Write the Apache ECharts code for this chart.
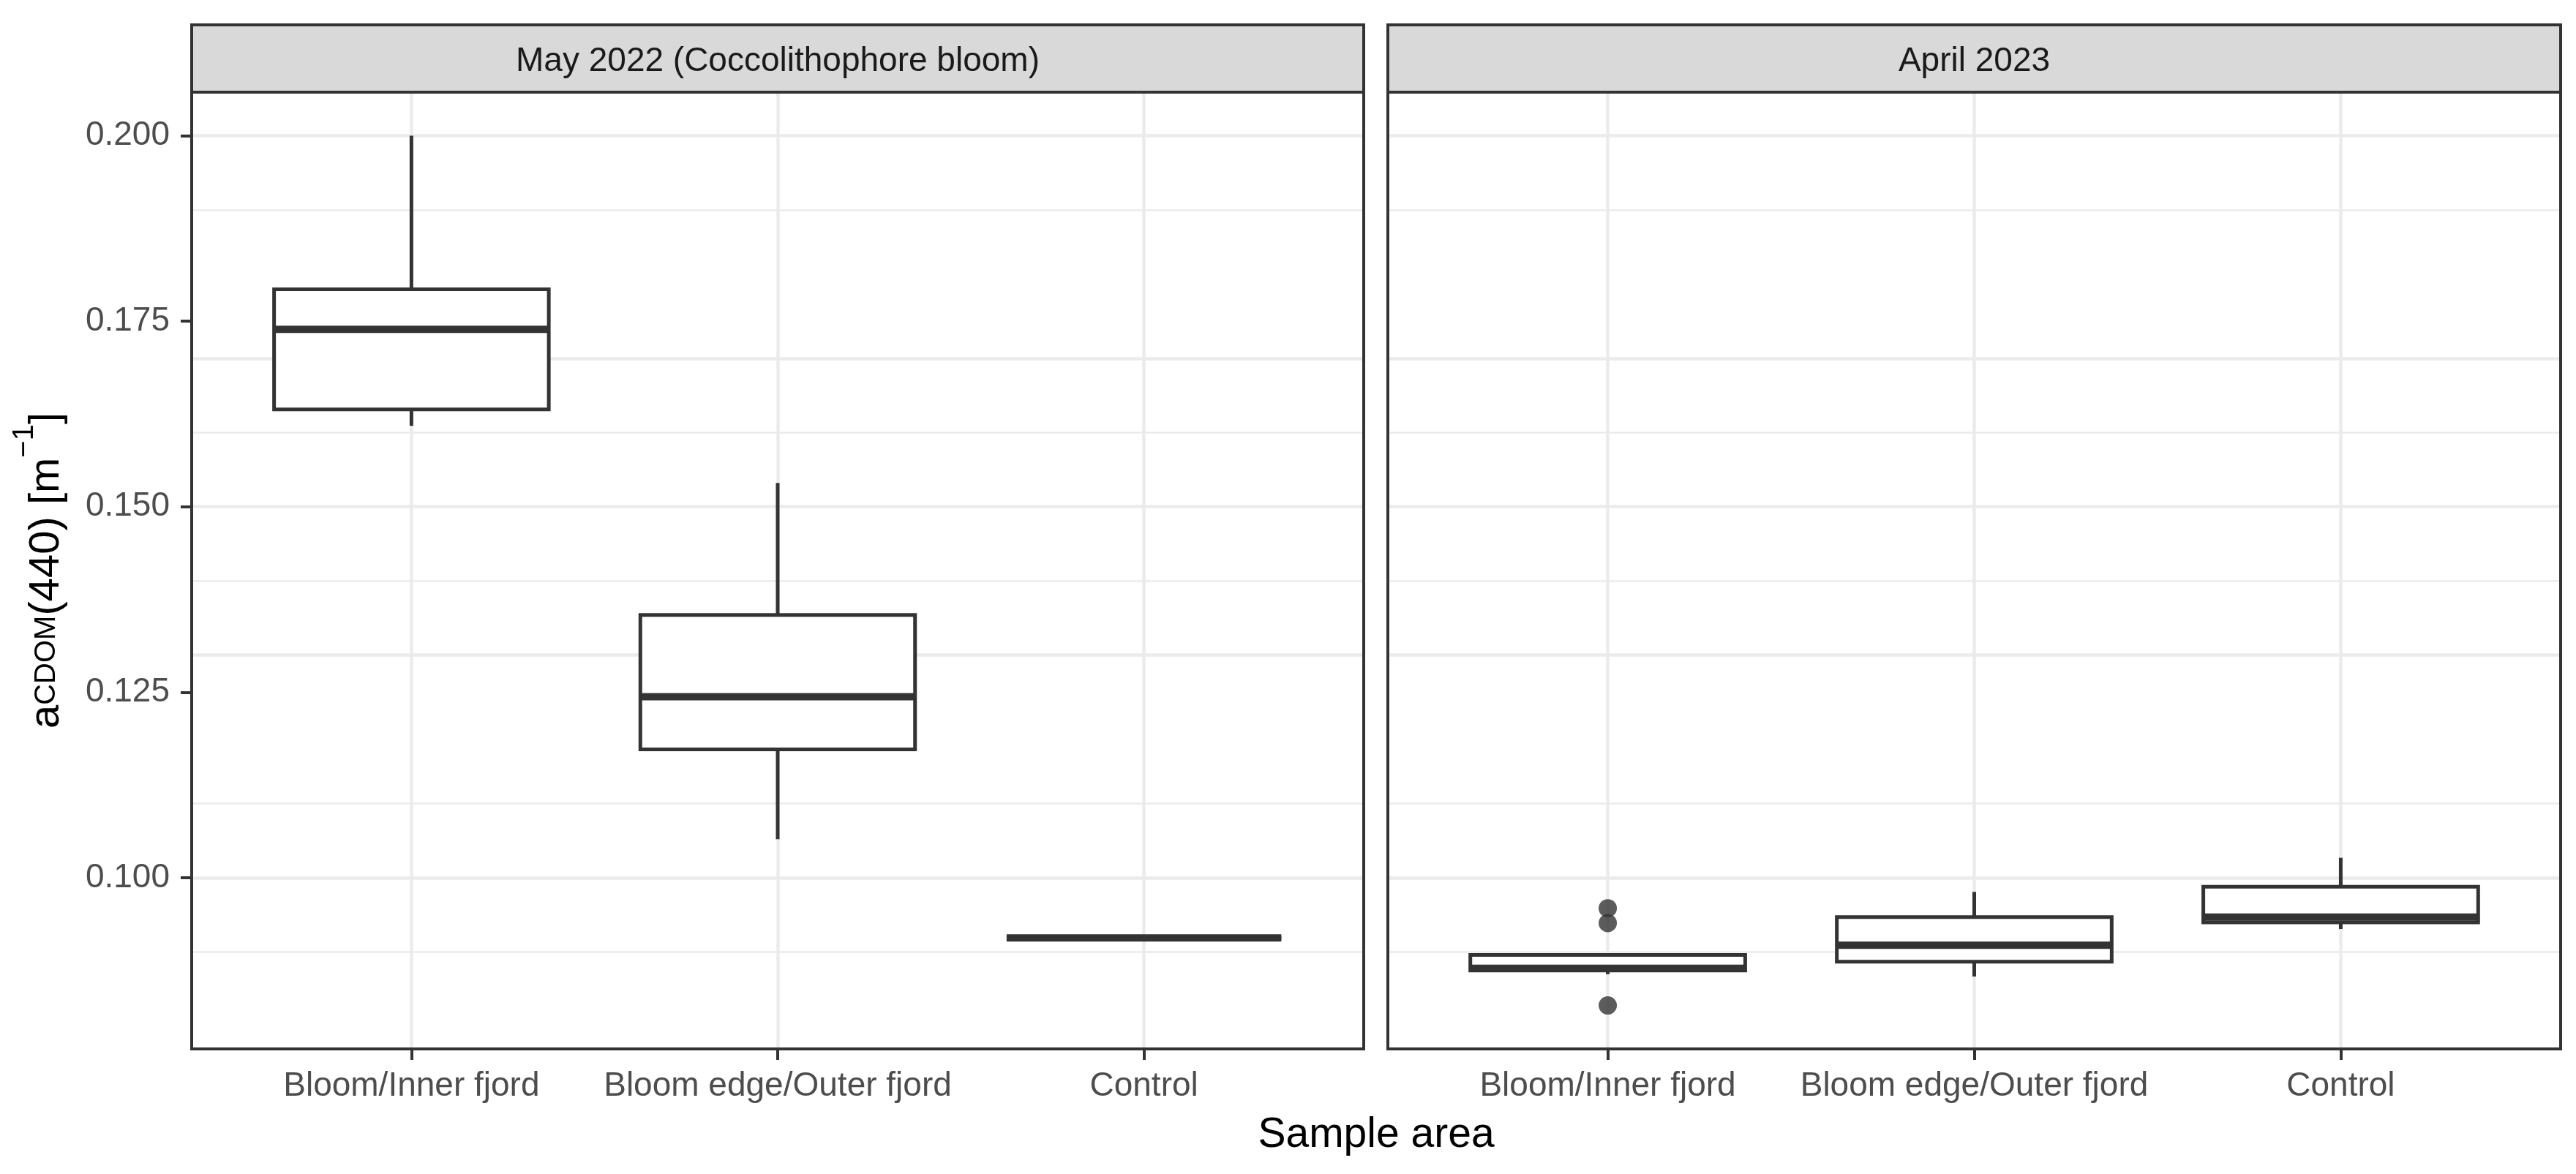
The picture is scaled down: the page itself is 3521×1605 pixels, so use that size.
<!DOCTYPE html>
<html>
<head>
<meta charset="utf-8">
<script src="https://cdn.jsdelivr.net/npm/echarts@6/dist/echarts.min.js"></script>
<style>
html,body{margin:0;padding:0;background:#fff;}
#chart{width:3521px;height:1605px;}
</style>
</head>
<body>
<div id="chart"></div>
<script>
// ---------------- data ----------------
const categories = ['Bloom/Inner fjord', 'Bloom edge/Outer fjord', 'Control'];
const panelTitles = ['May 2022 (Coccolithophore bloom)', 'April 2023'];
// [lower whisker, Q1, median, Q3, upper whisker]
const may2022Boxes = [
  [0.1609, 0.1631, 0.1739, 0.1793, 0.2000],
  [0.1052, 0.1173, 0.1244, 0.1354, 0.1532],
  [0.0919, 0.0919, 0.0919, 0.0919, 0.0919]
];
const apr2023Boxes = [
  [0.0870, 0.0875, 0.0878, 0.0896, 0.0896],
  [0.0867, 0.0887, 0.0909, 0.0947, 0.0981],
  [0.0931, 0.0940, 0.0947, 0.0988, 0.1027]
];
const apr2023OutlierCat = [1, 1, 1];
const apr2023OutlierVal = [0.0959, 0.0939, 0.0828];
const yTicks = [0.100, 0.125, 0.150, 0.175, 0.200];
const yMinorGrid = [0.0875, 0.1125, 0.1375, 0.1625, 0.1875];
const xTicks = [1, 2, 3];

// ---------------- layout / style ----------------
const FONT = '"Liberation Sans", Arial, Helvetica, sans-serif';
const PANEL_TOP = 126, PANEL_BOTTOM = 1434, STRIP_TOP = 34;
const PANEL_X = [[262, 1864], [1897, 3500]];
const LINE = '#333333';
const BOX_WIDTH = 0.75;

const allVals = [].concat(...may2022Boxes, ...apr2023Boxes, apr2023OutlierVal);
const dMin = Math.min(...allVals), dMax = Math.max(...allVals);
const yMin = dMin - 0.05 * (dMax - dMin);
const yMax = dMax + 0.05 * (dMax - dMin);

function renderBox(params, api) {
  const x = api.value(0);
  const lo = api.coord([x, api.value(1)]);
  const q1 = api.coord([x, api.value(2)]);
  const med = api.coord([x, api.value(3)]);
  const q3 = api.coord([x, api.value(4)]);
  const hi = api.coord([x, api.value(5)]);
  const hw = api.size([BOX_WIDTH, 0])[0] / 2;
  const st = {stroke: LINE, lineWidth: 5, fill: null};
  return {
    type: 'group',
    children: [
      {type: 'line', shape: {x1: lo[0], y1: lo[1], x2: q1[0], y2: q1[1]}, style: st},
      {type: 'line', shape: {x1: q3[0], y1: q3[1], x2: hi[0], y2: hi[1]}, style: st},
      {type: 'rect', shape: {x: q3[0] - hw, y: q3[1], width: 2 * hw, height: q1[1] - q3[1]},
        style: {stroke: LINE, lineWidth: 5, fill: '#ffffff'}},
      {type: 'line', shape: {x1: med[0] - hw, y1: med[1], x2: med[0] + hw, y2: med[1]},
        style: {stroke: LINE, lineWidth: 10}}
    ]
  };
}

function gridLines() {
  return {
    silent: true, symbol: 'none', z: 1, animation: false,
    label: {show: false},
    emphasis: {disabled: true},
    lineStyle: {color: '#EBEBEB', type: 'solid'},
    data: [].concat(
      yMinorGrid.map(v => ({yAxis: v, lineStyle: {width: 2.5, color: '#EBEBEB', type: 'solid'}})),
      yTicks.map(v => ({yAxis: v, lineStyle: {width: 4.5, color: '#EBEBEB', type: 'solid'}})),
      xTicks.map(v => ({xAxis: v, lineStyle: {width: 4.5, color: '#EBEBEB', type: 'solid'}}))
    )
  };
}

const grids = PANEL_X.map(([l, r]) => ({
  left: l, top: PANEL_TOP, width: r - l, height: PANEL_BOTTOM - PANEL_TOP,
  show: true, backgroundColor: 'transparent', borderColor: LINE, borderWidth: 4, z: 10
}));

const xAxes = PANEL_X.map((_, i) => ({
  type: 'value', gridIndex: i, min: 1 - 0.6, max: categories.length + 0.6,
  axisLine: {show: false},
  splitLine: {show: false},
  axisTick: {show: true, customValues: xTicks, length: 15, lineStyle: {color: LINE, width: 4}},
  axisLabel: {show: true, customValues: xTicks, margin: 28, fontSize: 46, color: '#4D4D4D',
    fontFamily: FONT, formatter: v => categories[Math.round(v) - 1]}
}));

const yAxes = PANEL_X.map((_, i) => ({
  type: 'value', gridIndex: i, min: yMin, max: yMax,
  axisLine: {show: false},
  splitLine: {show: false},
  axisTick: {show: i === 0, customValues: yTicks, length: 15, lineStyle: {color: LINE, width: 4}},
  axisLabel: {show: i === 0, customValues: yTicks, margin: 30, fontSize: 46, color: '#4D4D4D',
    fontFamily: FONT, formatter: v => v.toFixed(3)}
}));

const boxSets = [may2022Boxes, apr2023Boxes];
const series = boxSets.map((boxes, i) => ({
  type: 'custom', xAxisIndex: i, yAxisIndex: i, z: 3,
  renderItem: renderBox,
  encode: {x: 0, y: [1, 2, 3, 4, 5]},
  data: boxes.map((b, k) => [k + 1].concat(b)),
  markLine: gridLines()
}));
series.push({
  type: 'scatter', xAxisIndex: 1, yAxisIndex: 1, z: 4,
  symbol: 'circle', symbolSize: 25,
  itemStyle: {color: LINE},
  data: apr2023OutlierCat.map((c, k) => [c, apr2023OutlierVal[k]])
});

const graphics = [];
PANEL_X.forEach(([l, r], i) => {
  graphics.push({type: 'rect', z: 5,
    shape: {x: l, y: STRIP_TOP, width: r - l, height: PANEL_TOP - STRIP_TOP},
    style: {fill: '#D9D9D9', stroke: LINE, lineWidth: 4}});
  graphics.push({type: 'text', z: 6, x: (l + r) / 2, y: (STRIP_TOP + PANEL_TOP) / 2 + 4,
    style: {text: panelTitles[i], fontSize: 46, fontFamily: FONT, fill: '#1A1A1A',
      align: 'center', verticalAlign: 'middle'}});
});
graphics.push({type: 'text', z: 6, x: (PANEL_X[0][0] + PANEL_X[1][1]) / 2, y: 1552,
  style: {text: 'Sample area', fontSize: 57, fontFamily: FONT, fill: '#000000',
    align: 'center', verticalAlign: 'middle'}});
graphics.push({type: 'text', z: 6, x: 64, y: (PANEL_TOP + PANEL_BOTTOM) / 2, rotation: Math.PI / 2,
  style: {
    text: '{m|a}{sub|CDOM}{m|(440) [m}{sup|\u22121}{m|]}',
    fontSize: 57, fontFamily: FONT, fill: '#000000', align: 'center', verticalAlign: 'middle',
    rich: {
      m: {fontSize: 58, fontFamily: FONT, fill: '#000000', lineHeight: 100},
      sub: {fontSize: 40, fontFamily: FONT, fill: '#000000', lineHeight: 40, verticalAlign: 'middle'},
      sup: {fontSize: 40, fontFamily: FONT, fill: '#000000', lineHeight: 40, verticalAlign: 'top'}
    }
  }});

const chart = echarts.init(document.getElementById('chart'), null, {renderer: 'canvas'});
chart.setOption({
  animation: false,
  backgroundColor: '#ffffff',
  grid: grids,
  xAxis: xAxes,
  yAxis: yAxes,
  series: series,
  graphic: graphics
});
</script>
</body>
</html>
